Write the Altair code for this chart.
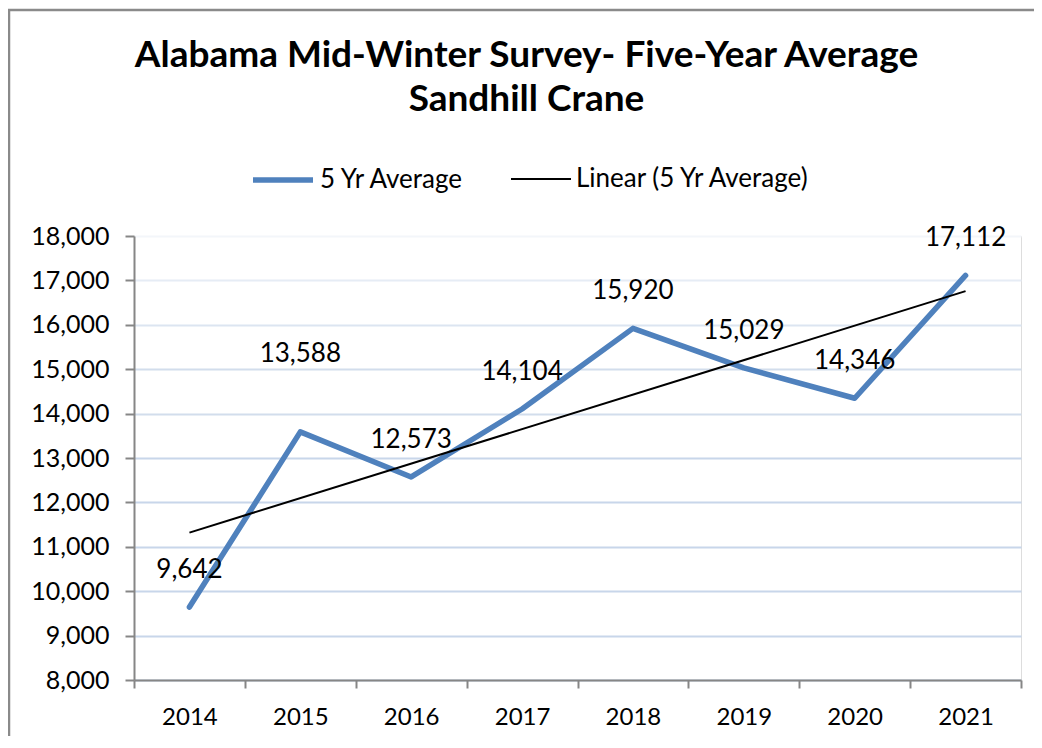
import altair as alt
import pandas as pd

years = [2014, 2015, 2016, 2017, 2018, 2019, 2020, 2021]
five_yr_avg = [9642, 13588, 12573, 14104, 15920, 15029, 14346, 17112]
series_names = ["5 Yr Average", "Linear (5 Yr Average)"]
series_colors = ["#4F81BD", "#000000"]
y_ticks = [8000, 9000, 10000, 11000, 12000, 13000, 14000, 15000, 16000, 17000, 18000]
title_lines = ["Alabama Mid-Winter Survey- Five-Year Average", "Sandhill Crane"]

FONT = "Lato"
W, H = 887, 444

df = pd.DataFrame({"year": years, "value": five_yr_avg, "series": series_names[0]})

grid_color = {
    "condition": [
        {"test": "datum.value >= 18000", "value": "#F3F6FA"},
        {"test": "datum.value >= 17000", "value": "#E6ECF5"},
        {"test": "datum.value >= 16000", "value": "#DCE5F1"},
        {"test": "datum.value >= 14000", "value": "#D2DDEC"},
    ],
    "value": "#C8D6EA",
}

x_enc = alt.X(
    "year:O",
    scale=alt.Scale(type="band", paddingInner=0, paddingOuter=0),
    axis=alt.Axis(
        title=None, labelAngle=0, tickBand="extent", grid=False,
        domainColor="#868686", domainWidth=2, tickColor="#868686", tickWidth=2,
        tickSize=8, labelFontSize=24, labelFont=FONT, labelColor="#000000",
        labelPadding=17,
    ),
)
y_enc = alt.Y(
    "value:Q",
    scale=alt.Scale(domain=[8000, 18000], nice=False, zero=False),
    axis=alt.Axis(
        title=None, values=y_ticks, format=",.0f", grid=True, gridColor=grid_color,
        gridWidth=2, domainColor="#868686", domainWidth=2, tickColor="#868686",
        tickWidth=2, tickSize=9, labelFontSize=25, labelFont=FONT,
        labelColor="#000000", labelPadding=16,
    ),
)

legend = alt.Legend(
    title=None, orient="none", legendX=116, legendY=-89, direction="horizontal",
    symbolType="stroke", symbolSize=3600, labelFontSize=26, labelFont=FONT,
    labelColor="#000000", labelOffset=4, columnPadding=42, labelLimit=400,
)
color_enc = alt.Color("series:N", scale=alt.Scale(domain=series_names, range=series_colors), legend=legend)
sw_enc = alt.StrokeWidth("series:N", scale=alt.Scale(type="point", domain=series_names, range=[5.5, 2]), legend=legend)

line = alt.Chart(df).mark_line(strokeCap="round", strokeJoin="round").encode(
    x=x_enc, y=y_enc, color=color_enc, strokeWidth=sw_enc
)

trend = (
    alt.Chart(df)
    .transform_regression("year", "value", method="linear")
    .transform_calculate(series="'Linear (5 Yr Average)'")
    .mark_line()
    .encode(x=x_enc, y=y_enc, color=color_enc, strokeWidth=sw_enc)
)

labels = (
    alt.Chart(df)
    .transform_filter("datum.year != 2015")
    .mark_text(dy=-37, fontSize=26, font=FONT, color="#000000", baseline="middle")
    .encode(x=x_enc, y=y_enc, text=alt.Text("value:Q", format=","))
)
labels_2015 = (
    alt.Chart(df)
    .transform_filter("datum.year == 2015")
    .mark_text(dy=-78, fontSize=26, font=FONT, color="#000000", baseline="middle")
    .encode(x=x_enc, y=y_enc, text=alt.Text("value:Q", format=","))
)

frame = alt.Chart(alt.Data(values=[{}])).mark_rect(
    fillOpacity=0, stroke="#8A8A8A", strokeWidth=2.5
).encode(
    x=alt.value(-125), y=alt.value(-226), x2=alt.value(W + 60), y2=alt.value(H + 100)
)

chart = (
    alt.layer(line, trend, labels, labels_2015, frame)
    .properties(
        width=W, height=H,
        title=alt.TitleParams(
            text=title_lines, fontSize=37, font=FONT, fontWeight="bold",
            anchor="middle", dx=-51, color="#000000", offset=-110, lineHeight=44,
        ),
        autosize=alt.AutoSizeParams(type="none"),
        padding={"left": 126, "top": 228, "right": 13, "bottom": 56},
    )
    .configure_view(strokeWidth=0)
    .configure(background="#FFFFFF")
)

chart.save("out.html", embed_options={"renderer": "svg", "actions": False})
